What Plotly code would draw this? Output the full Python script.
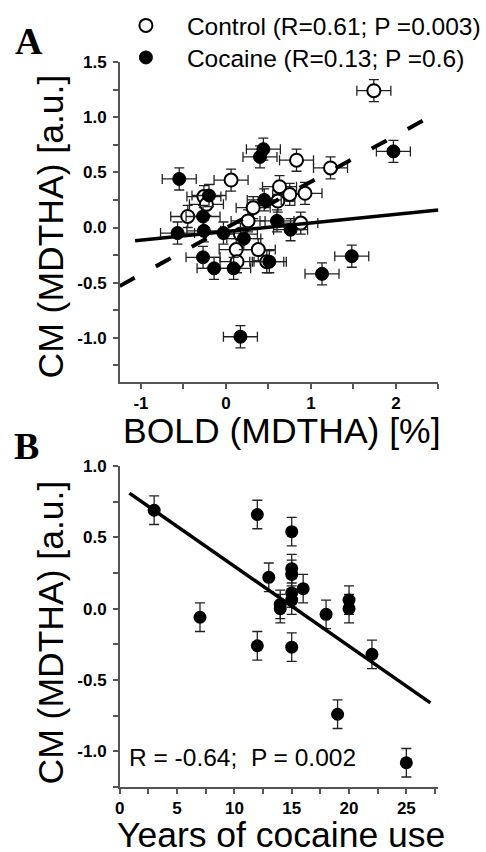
import plotly.graph_objects as go

# ---------------- Panel A data ----------------
CTRL_BOLD = [1.74, 1.23, 0.83, 0.75, 0.93, 0.88, 0.63, 0.61, 0.32, 0.26,
             0.17, 0.12, 0.13, 0.38, 0.48, 0.06, -0.26, -0.45, -0.23]
CTRL_CM = [1.24, 0.54, 0.61, 0.30, 0.31, 0.04, 0.37, 0.24, 0.18, 0.06,
           -0.06, -0.20, -0.31, -0.20, -0.31, 0.43, 0.28, 0.10, 0.21]
COC_BOLD = [1.97, 1.48, 1.13, 0.17, -0.55, 0.44, 0.40, 0.45, 0.60, 0.76,
            -0.27, -0.26, -0.03, -0.57, 0.21, -0.27, -0.14, 0.09, 0.51, -0.20]
COC_CM = [0.69, -0.26, -0.42, -0.99, 0.44, 0.71, 0.64, 0.25, 0.06, -0.02,
          0.10, -0.03, -0.05, -0.05, -0.10, -0.27, -0.37, -0.37, -0.31, 0.29]
BOLD_ERR = 0.2
CM_ERR_A = 0.1

# regression fits (slope, intercept, x-extent)
CTRL_FIT = {"slope": 0.42, "intercept": -0.005, "x": [-1.25, 2.32]}
COC_FIT = {"slope": 0.078, "intercept": -0.036, "x": [-1.07, 2.5]}

CTRL_LABEL = "Control (R=0.61; P =0.003)"
COC_LABEL = "Cocaine (R=0.13; P =0.6)"

# ---------------- Panel B data ----------------
YEARS = [3, 12, 15, 13, 15, 15, 16, 15, 15, 14, 14, 18, 20, 20, 7, 12, 15, 22, 19, 25]
CM_B = [0.69, 0.66, 0.54, 0.22, 0.28, 0.24, 0.14, 0.11, 0.06, 0.03, 0.0, -0.04,
        0.06, 0.0, -0.06, -0.26, -0.27, -0.32, -0.74, -1.08]
CM_ERR_B = 0.1
YEARS_FIT = {"slope": -0.056, "intercept": 0.857, "x": [0.84, 27.1]}
B_STATS = "R = -0.64;\u00a0 P = 0.002"

# ---------------- tick labels ----------------
A_XTICKS = [-1, 0, 1, 2]
A_XLABELS = ["-1", "0", "1", "2"]
A_YTICKS = [-1.0, -0.5, 0.0, 0.5, 1.0, 1.5]
A_YLABELS = ["-1.0", "-0.5", "0.0", "0.5", "1.0", "1.5"]
B_XTICKS = [0, 5, 10, 15, 20, 25]
B_XLABELS = ["0", "5", "10", "15", "20", "25"]
B_YTICKS = [-1.0, -0.5, 0.0, 0.5, 1.0]
B_YLABELS = ["-1.0", "-0.5", "0.0", "0.5", "1.0"]

W, H = 486, 852
SANS = "Liberation Sans, Arial, sans-serif"
AX = "#555555"


def px(x):
    return x / W


def py(y):
    return 1 - y / H


def fit_line(fit):
    xs = fit["x"]
    return xs, [fit["slope"] * v + fit["intercept"] for v in xs]


err_style = dict(color="#222222", thickness=1.3, width=5)

fig = go.Figure()

fig.add_trace(go.Scatter(
    x=CTRL_BOLD, y=CTRL_CM, mode="markers", name=CTRL_LABEL,
    marker=dict(symbol="circle", size=13, color="white",
                line=dict(color="black", width=2)),
    error_x=dict(type="constant", value=BOLD_ERR, **err_style),
    error_y=dict(type="constant", value=CM_ERR_A, **err_style),
    xaxis="x", yaxis="y", legend="legend"))

fig.add_trace(go.Scatter(
    x=COC_BOLD, y=COC_CM, mode="markers", name=COC_LABEL,
    marker=dict(symbol="circle", size=13, color="black",
                line=dict(color="black", width=1)),
    error_x=dict(type="constant", value=BOLD_ERR, **err_style),
    error_y=dict(type="constant", value=CM_ERR_A, **err_style),
    xaxis="x", yaxis="y", legend="legend2"))

lx, ly = fit_line(CTRL_FIT)
fig.add_trace(go.Scatter(x=lx, y=ly, mode="lines", showlegend=False,
                         line=dict(color="black", width=4, dash="17px,24px"),
                         xaxis="x", yaxis="y", hoverinfo="skip"))
lx, ly = fit_line(COC_FIT)
fig.add_trace(go.Scatter(x=lx, y=ly, mode="lines", showlegend=False,
                         line=dict(color="black", width=3.5),
                         xaxis="x", yaxis="y", hoverinfo="skip"))

fig.add_trace(go.Scatter(
    x=YEARS, y=CM_B, mode="markers", showlegend=False,
    marker=dict(symbol="circle", size=13, color="black"),
    error_y=dict(type="constant", value=CM_ERR_B, **err_style),
    xaxis="x2", yaxis="y2"))
lx, ly = fit_line(YEARS_FIT)
fig.add_trace(go.Scatter(x=lx, y=ly, mode="lines", showlegend=False,
                         line=dict(color="black", width=3.5),
                         xaxis="x2", yaxis="y2", hoverinfo="skip"))

tickfont = dict(family=SANS, size=17, color="black", weight="bold")


def axis(domain, rng, tickvals, ticktext, minor_dtick, anchor, standoff):
    return dict(domain=domain, range=rng, tickmode="array", tickvals=tickvals,
                ticktext=ticktext, ticks="outside", ticklen=5, tickwidth=1.5,
                tickcolor=AX, showline=True, linecolor=AX, linewidth=1.5,
                showgrid=False, zeroline=False, anchor=anchor, tickfont=tickfont,
                automargin=False, ticklabelstandoff=standoff,
                minor=dict(tickmode="linear", tick0=0, dtick=minor_dtick,
                           ticks="outside", ticklen=5, tickwidth=1.5,
                           tickcolor=AX, showgrid=False))


xdom = [px(121), px(443)]
legfont = dict(family=SANS, size=24.5, color="black")
fig.update_layout(
    template="none",
    width=W, height=H, autosize=False,
    margin=dict(l=0, r=0, t=0, b=0, pad=0),
    font=dict(family=SANS, color="black"),
    paper_bgcolor="white", plot_bgcolor="white",
    xaxis=axis(xdom, [-1.25, 2.5], A_XTICKS, A_XLABELS, 0.5, "y", 0),
    yaxis=axis([py(382), py(62)], [-1.4, 1.5], A_YTICKS, A_YLABELS, 0.25, "x", 3),
    xaxis2=axis(xdom, [0, 27.8], B_XTICKS, B_XLABELS, 2.5, "y2", 0),
    yaxis2=axis([py(787), py(466)], [-1.25, 1.0], B_YTICKS, B_YLABELS, 0.25, "x2", 3),
    legend=dict(x=px(106), y=py(3), xanchor="left", yanchor="top",
                bgcolor="rgba(0,0,0,0)", borderwidth=0, itemwidth=72,
                itemsizing="trace", font=legfont),
    legend2=dict(x=px(106), y=py(35), xanchor="left", yanchor="top",
                 bgcolor="rgba(0,0,0,0)", borderwidth=0, itemwidth=72,
                 itemsizing="trace", font=legfont),
)

ann = []
serif = dict(family="Liberation Serif, Times New Roman, serif", size=38, color="black", weight="bold")
title_font = dict(family=SANS, size=35.5, color="black")
ann.append(dict(text="A", x=px(29), y=py(41), font=serif))
ann.append(dict(text="B", x=px(27), y=py(446), font=serif))
ann.append(dict(text="BOLD (MDTHA) [%]", x=px(285), y=py(431), font=title_font))
ann.append(dict(text="Years of cocaine use", x=px(284), y=py(835), font=title_font))
ann.append(dict(text="CM (MDTHA) [a.u.]", x=px(52), y=py(226), font=title_font, textangle=-90))
ann.append(dict(text="CM (MDTHA) [a.u.]", x=px(52), y=py(632), font=title_font, textangle=-90))
ann.append(dict(text=B_STATS, x=px(128), y=py(757), xanchor="left",
                font=dict(family=SANS, size=24.5, color="black")))
for a in ann:
    a.setdefault("xanchor", "center")
    a.update(xref="paper", yref="paper", yanchor="middle", showarrow=False)
fig.update_layout(annotations=ann)

fig.write_html("out.html", config={"displayModeBar": False},
               post_script="document.body.style.margin='0';"
                           "document.body.style.overflow='hidden';")
